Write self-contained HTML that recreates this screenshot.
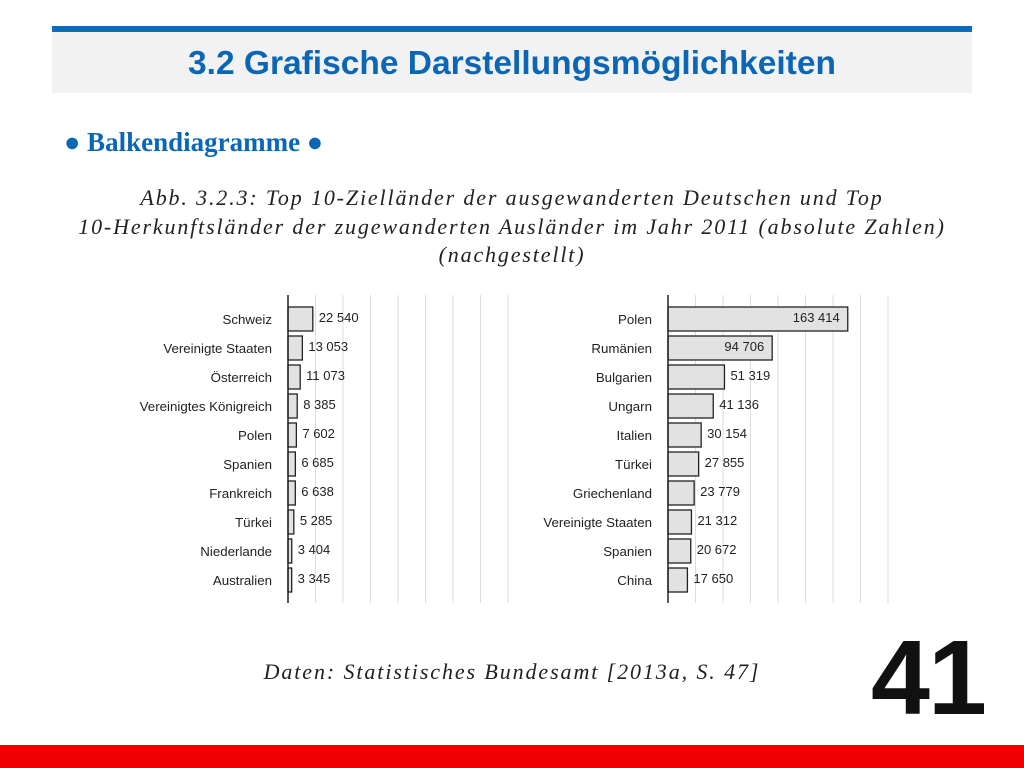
<!DOCTYPE html>
<html><head><meta charset="utf-8"><style>
body{margin:0;width:1024px;height:768px;background:#fff;position:relative;overflow:hidden;font-family:"Liberation Sans",sans-serif}
.abs{position:absolute}
</style></head><body>
<div class="abs" style="left:52px;top:26px;width:920px;height:6px;background:#0c6cc0"></div>
<div class="abs" style="left:52px;top:32px;width:920px;height:61px;background:#f2f2f2"></div>
<div class="abs" style="left:52px;top:43px;width:920px;text-align:center;font-size:33.5px;font-weight:bold;color:#0b67b5;line-height:42px">3.2 Grafische Darstellungsmöglichkeiten</div>
<div class="abs" style="left:64px;top:124px;font-family:'Liberation Serif',serif;font-weight:bold;font-size:27px;color:#0b67b5;line-height:36px">● Balkendiagramme ●</div>
<div class="abs" style="left:0;top:184px;width:1024px;text-align:center;font-family:'Liberation Serif',serif;font-style:italic;font-size:22px;letter-spacing:1.85px;line-height:28.5px;color:#222">Abb. 3.2.3: Top 10-Zielländer der ausgewanderten Deutschen und Top<br>10-Herkunftsländer der zugewanderten Ausländer im Jahr 2011 (absolute Zahlen)<br>(nachgestellt)</div>
<div class="abs" style="left:0;top:658px;width:1024px;text-align:center;font-family:'Liberation Serif',serif;font-style:italic;font-size:22px;letter-spacing:1.9px;line-height:28px;color:#222">Daten: Statistisches Bundesamt [2013a, S. 47]</div>
<div class="abs" style="left:871px;top:625px;font-size:106px;font-weight:bold;color:#111;line-height:106px;letter-spacing:-2px">41</div>
<div class="abs" style="left:0;top:745px;width:1024px;height:23px;background:#f00000"></div>
<svg class="abs" id="charts" style="left:0;top:0" width="1024" height="768"></svg>
<script>
const leftCategories=["Schweiz","Vereinigte Staaten","Österreich","Vereinigtes Königreich","Polen","Spanien","Frankreich","Türkei","Niederlande","Australien"];
const leftValues=[22540,13053,11073,8385,7602,6685,6638,5285,3404,3345];
const rightCategories=["Polen","Rumänien","Bulgarien","Ungarn","Italien","Türkei","Griechenland","Vereinigte Staaten","Spanien","China"];
const rightValues=[163414,94706,51319,41136,30154,27855,23779,21312,20672,17650];
const gridTicks=[0,25000,50000,75000,100000,125000,150000,175000,200000];
const NS="http://www.w3.org/2000/svg";
const svg=document.getElementById('charts');
function mk(t,a){const e=document.createElementNS(NS,t);for(const k in a)e.setAttribute(k,a[k]);svg.appendChild(e);return e;}
function fmt(v){return String(v).replace(/\B(?=(\d{3})+(?!\d))/g," ");}
function chart(x0,cats,vals,prefix){
  const W=220,top=295,bot=603,xMax=200000;
  const xs=v=>x0+v/xMax*W;
  const pitch=29,y0=307;
  const ys=i=>y0+i*pitch;
  gridTicks.forEach((t,i)=>{if(i===0)return;
    const l=mk('line',{x1:xs(t),x2:xs(t),y1:top,y2:bot,stroke:'#dcdcdc','stroke-width':1});
    
    });
  vals.forEach((v,i)=>{
    const y=ys(i);
    const r=mk('rect',{x:x0,y:y,width:xs(v)-x0,height:24,fill:'#e2e2e2',stroke:'#222','stroke-width':1.3});
    
    
    const lab=mk('text',{x:x0-16,y:y+17,'text-anchor':'end','font-size':13.3,fill:'#222','font-family':'Liberation Sans, sans-serif'});
    lab.textContent=cats[i];
    
    
    const inside=xs(v)-x0>90;
    const vt=mk('text',{x:inside?xs(v)-8:xs(v)+6,y:y+15,'text-anchor':inside?'end':'start','font-size':13,fill:'#222','font-family':'Liberation Sans, sans-serif'});
    vt.textContent=fmt(v);
    
    
  });
  const ax=mk('line',{x1:x0,x2:x0,y1:top,y2:bot,stroke:'#222','stroke-width':1.5});
  
  
}
chart(288,leftCategories,leftValues,'emigration');
chart(668,rightCategories,rightValues,'immigration');
</script>
</body></html>
